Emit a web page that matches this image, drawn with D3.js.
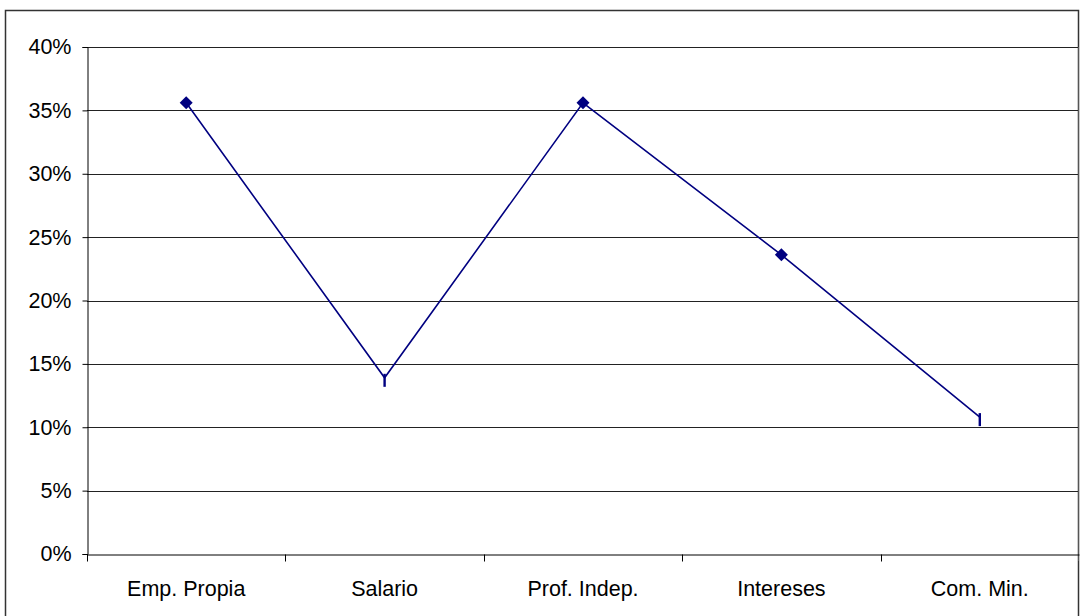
<!DOCTYPE html>
<html>
<head>
<meta charset="utf-8">
<script src="https://cdn.jsdelivr.net/npm/d3@7"></script>
<style>
  body { margin: 0; background: #fff; }
  svg { display: block; }
  text { font-family: "Liberation Sans", Arial, sans-serif; fill: #000; }
</style>
</head>
<body>
<svg width="1083" height="616"></svg>
<script>
// data
var categories = ["Emp. Propia", "Salario", "Prof. Indep.", "Intereses", "Com. Min."];
var values = [0.356, 0.139, 0.356, 0.236, 0.108];
var markers = ["diamond", "dash", "diamond", "diamond", "dash"];
var yTicks = [0, 0.05, 0.10, 0.15, 0.20, 0.25, 0.30, 0.35, 0.40];

var svg = d3.select("svg");
var margins = { top: 47, bottom: 62, left: 87, right: 4 };
var svgWidth = +svg.attr("width");
var svgHeight = +svg.attr("height");
var chartWidth = svgWidth - margins.left - margins.right;
var chartHeight = svgHeight - margins.top - margins.bottom;
var fontSize = "21.5px";

// outer frame
svg.append("rect")
    .attr("x", 5.5).attr("y", 10.5)
    .attr("width", 1073).attr("height", 620)
    .attr("fill", "none")
    .attr("stroke", "#333")
    .attr("stroke-width", 1.5);

var g = svg.append("g")
    .attr("transform", "translate(" + margins.left + "," + margins.top + ")");

// scales
var xScale = d3.scaleBand().domain(categories).range([0, chartWidth]);
var yScale = d3.scaleLinear().domain([0, 0.4]).range([chartHeight, 0]);

// horizontal gridlines
g.selectAll("line.grid").data(yTicks.slice(1)).enter().append("line")
    .attr("class", "grid")
    .attr("x1", 0).attr("x2", chartWidth)
    .attr("y1", function (d) { return Math.round(yScale(d)) + 0.5; })
    .attr("y2", function (d) { return Math.round(yScale(d)) + 0.5; })
    .attr("stroke", "#222")
    .attr("stroke-width", 1);

// right edge of the plot area
g.append("line")
    .attr("x1", chartWidth - 0.5).attr("x2", chartWidth - 0.5)
    .attr("y1", 0).attr("y2", chartHeight + 7)
    .attr("stroke", "#555");

// y axis
var yAxis = d3.axisLeft(yScale)
    .tickValues(yTicks)
    .tickFormat(d3.format(".0%"))
    .tickSize(5)
    .tickPadding(11);
var yG = g.append("g").attr("transform", "translate(0.5,0)").call(yAxis);
yG.select(".domain").attr("stroke", "#000");
yG.selectAll(".tick line").attr("stroke", "#000");
yG.selectAll("text").style("font-size", fontSize).attr("fill", "#000")
    .style("font-family", "'Liberation Sans', Arial, sans-serif");

// x axis (ticks between categories)
var xAxis = d3.axisBottom(xScale).tickSize(0).tickPadding(26);
var xG = g.append("g").attr("transform", "translate(0," + (chartHeight + 0.5) + ")").call(xAxis);
xG.select(".domain").attr("stroke", "#000");
xG.selectAll("text").style("font-size", fontSize).attr("fill", "#000")
    .style("font-family", "'Liberation Sans', Arial, sans-serif");
var boundaries = categories.map(function (c) { return xScale(c); });
xG.selectAll("line.sep").data(boundaries).enter().append("line")
    .attr("class", "sep")
    .attr("x1", function (d) { return Math.round(d) + 0.5; })
    .attr("x2", function (d) { return Math.round(d) + 0.5; })
    .attr("y1", 0).attr("y2", 7)
    .attr("stroke", "#000");

// series line
var points = categories.map(function (c, i) {
    return { x: xScale(c) + xScale.bandwidth() / 2, y: yScale(values[i]), m: markers[i] };
});
var line = d3.line().x(function (d) { return d.x; }).y(function (d) { return d.y; });
g.append("path")
    .datum(points)
    .attr("d", line)
    .attr("fill", "none")
    .attr("stroke", "#000080")
    .attr("stroke-width", 1.6);

// markers
g.selectAll("path.diamond").data(points.filter(function (d) { return d.m === "diamond"; }))
    .enter().append("path")
    .attr("class", "diamond")
    .attr("d", function (d) {
        var s = 6.5;
        return "M" + d.x + "," + (d.y - s) + "L" + (d.x + s) + "," + d.y +
            "L" + d.x + "," + (d.y + s) + "L" + (d.x - s) + "," + d.y + "Z";
    })
    .attr("fill", "#000080");

g.selectAll("line.dash").data(points.filter(function (d) { return d.m === "dash"; }))
    .enter().append("line")
    .attr("class", "dash")
    .attr("x1", function (d) { return d.x; })
    .attr("x2", function (d) { return d.x; })
    .attr("y1", function (d) { return d.y - 4; })
    .attr("y2", function (d) { return d.y + 9; })
    .attr("stroke", "#000080")
    .attr("stroke-width", 2.4);
</script>
</body>
</html>
